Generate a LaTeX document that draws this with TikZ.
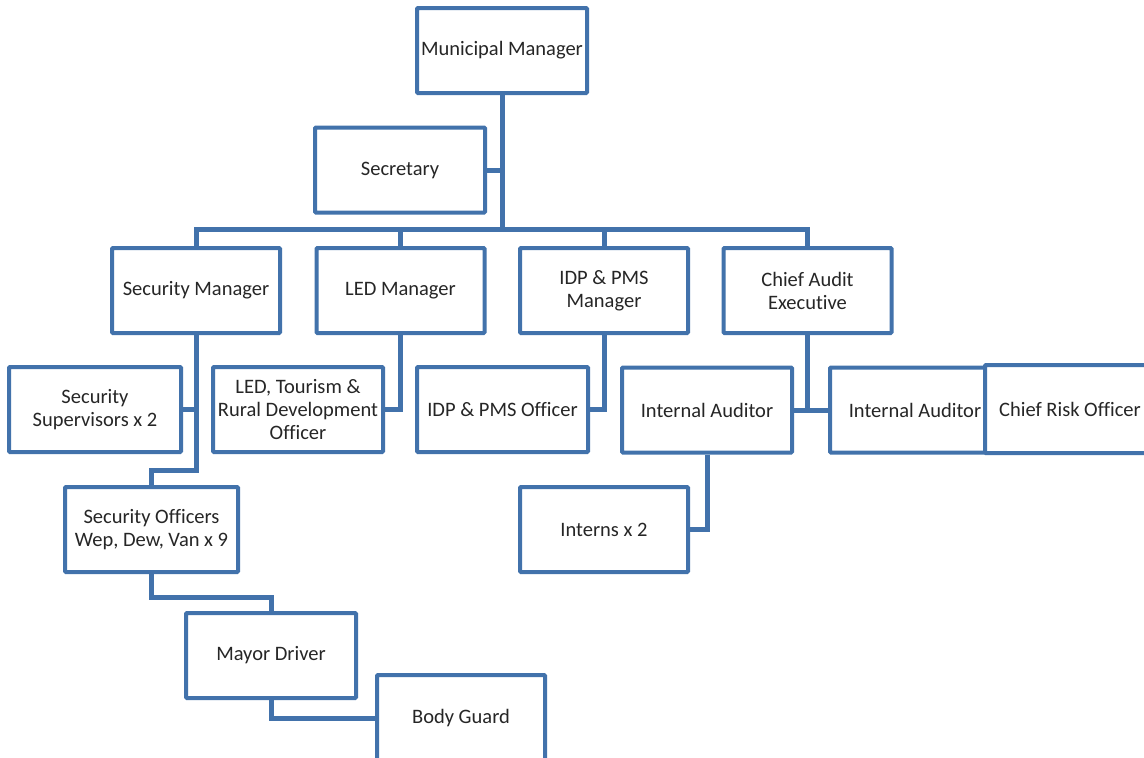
\documentclass[tikz,border=0pt]{standalone}
\usepackage{fontspec}
\setmainfont[Ligatures={NoCommon,NoRare}]{Carlito}
\usepackage{tikz}
\usetikzlibrary{calc,positioning}
\definecolor{orgblue}{RGB}{66,114,171}
\tikzset{
  post/.style={draw=orgblue, line width=4pt, rounded corners=1pt, fill=white, text=black!85,
    minimum width=170pt, minimum height=85pt, inner sep=0pt, align=center,
    font=\fontsize{20.5}{23}\selectfont},
  link/.style={draw=orgblue, line width=5pt}
}

\begin{document}
\begin{tikzpicture}[x=1pt,y=1pt]
  \useasboundingbox[fill=white] (0,0) rectangle (1144,-758);
  % top of the chart
  \node[post] (mm) at (502,-50.5) {Municipal Manager};
  \node[post] (sec) at (400,-170) {Secretary};
  % managers
  \node[post, minimum width=168pt] (secmgr) at (196,-290.5) {Security Manager};
  \node[post, minimum width=168pt] (ledmgr) at (400.5,-290.5) {LED Manager};
  \node[post, minimum width=168pt] (idpmgr) at (604,-290.5) {IDP \& PMS\\Manager};
  \node[post, minimum width=168pt] (cae) at (807.5,-290.5) {Chief Audit\\Executive};
  % officers
  \node[post, minimum width=172pt] (secsup) at (95,-409.5) {Security\\Supervisors x 2};
  \node[post] (ledoff) at (298,-409.5) {LED, Tourism \&\\Rural Development\\Officer};
  \node[post, minimum width=171pt] (idpoff) at (502.5,-409.5) {IDP \& PMS Officer};
  \node[post] (ia) at (707,-410) {Internal Auditor};
  \node[post] (iab) at (915,-410) {Internal Auditor};
  \node[post, minimum height=88pt] (cro) at (1070,-409) {Chief Risk Officer};
  \node[post, minimum width=173pt] (secoff) at (151.5,-529.5) {Security Officers\\Wep, Dew, Van x 9};
  \node[post, minimum width=168pt] (interns) at (604,-529.5) {Interns x 2};
  \node[post] (driver) at (271,-655.5) {Mayor Driver};
  \node[post, minimum width=168pt, minimum height=86pt] (guard) at (461,-718) {Body Guard};

  \coordinate (bus) at (502,-229);
  \draw[link] (mm.south) -- (mm |- bus);
  \draw[link] (sec.east) -- (sec.east -| mm);
  \draw[link] (secmgr.north) |- (bus) -| (cae.north);
  \draw[link] (ledmgr.north) -- (ledmgr |- bus);
  \draw[link] (idpmgr.north) -- (idpmgr |- bus);
  \draw[link] (ledmgr.south) |- (ledoff.east);
  \draw[link] (idpmgr.south) |- (idpoff.east);
  \draw[link] (cae.south) -- (cae.south |- ia.east);
  \draw[link] (ia.east) -- (iab.west);
  \draw[link] (ia.south) |- (interns.east);
  % security line
  \draw[link] (secsup.east) -- (secsup.east -| secmgr);
  \draw[link] (secmgr.south) |- ($(secoff.north)+(0,15)$) -- (secoff.north);
  \draw[link] (secoff.south) -- ++(0,-23) -| (driver.north);
  \draw[link] (driver.south) |- (guard.west);
\end{tikzpicture}
\end{document}
